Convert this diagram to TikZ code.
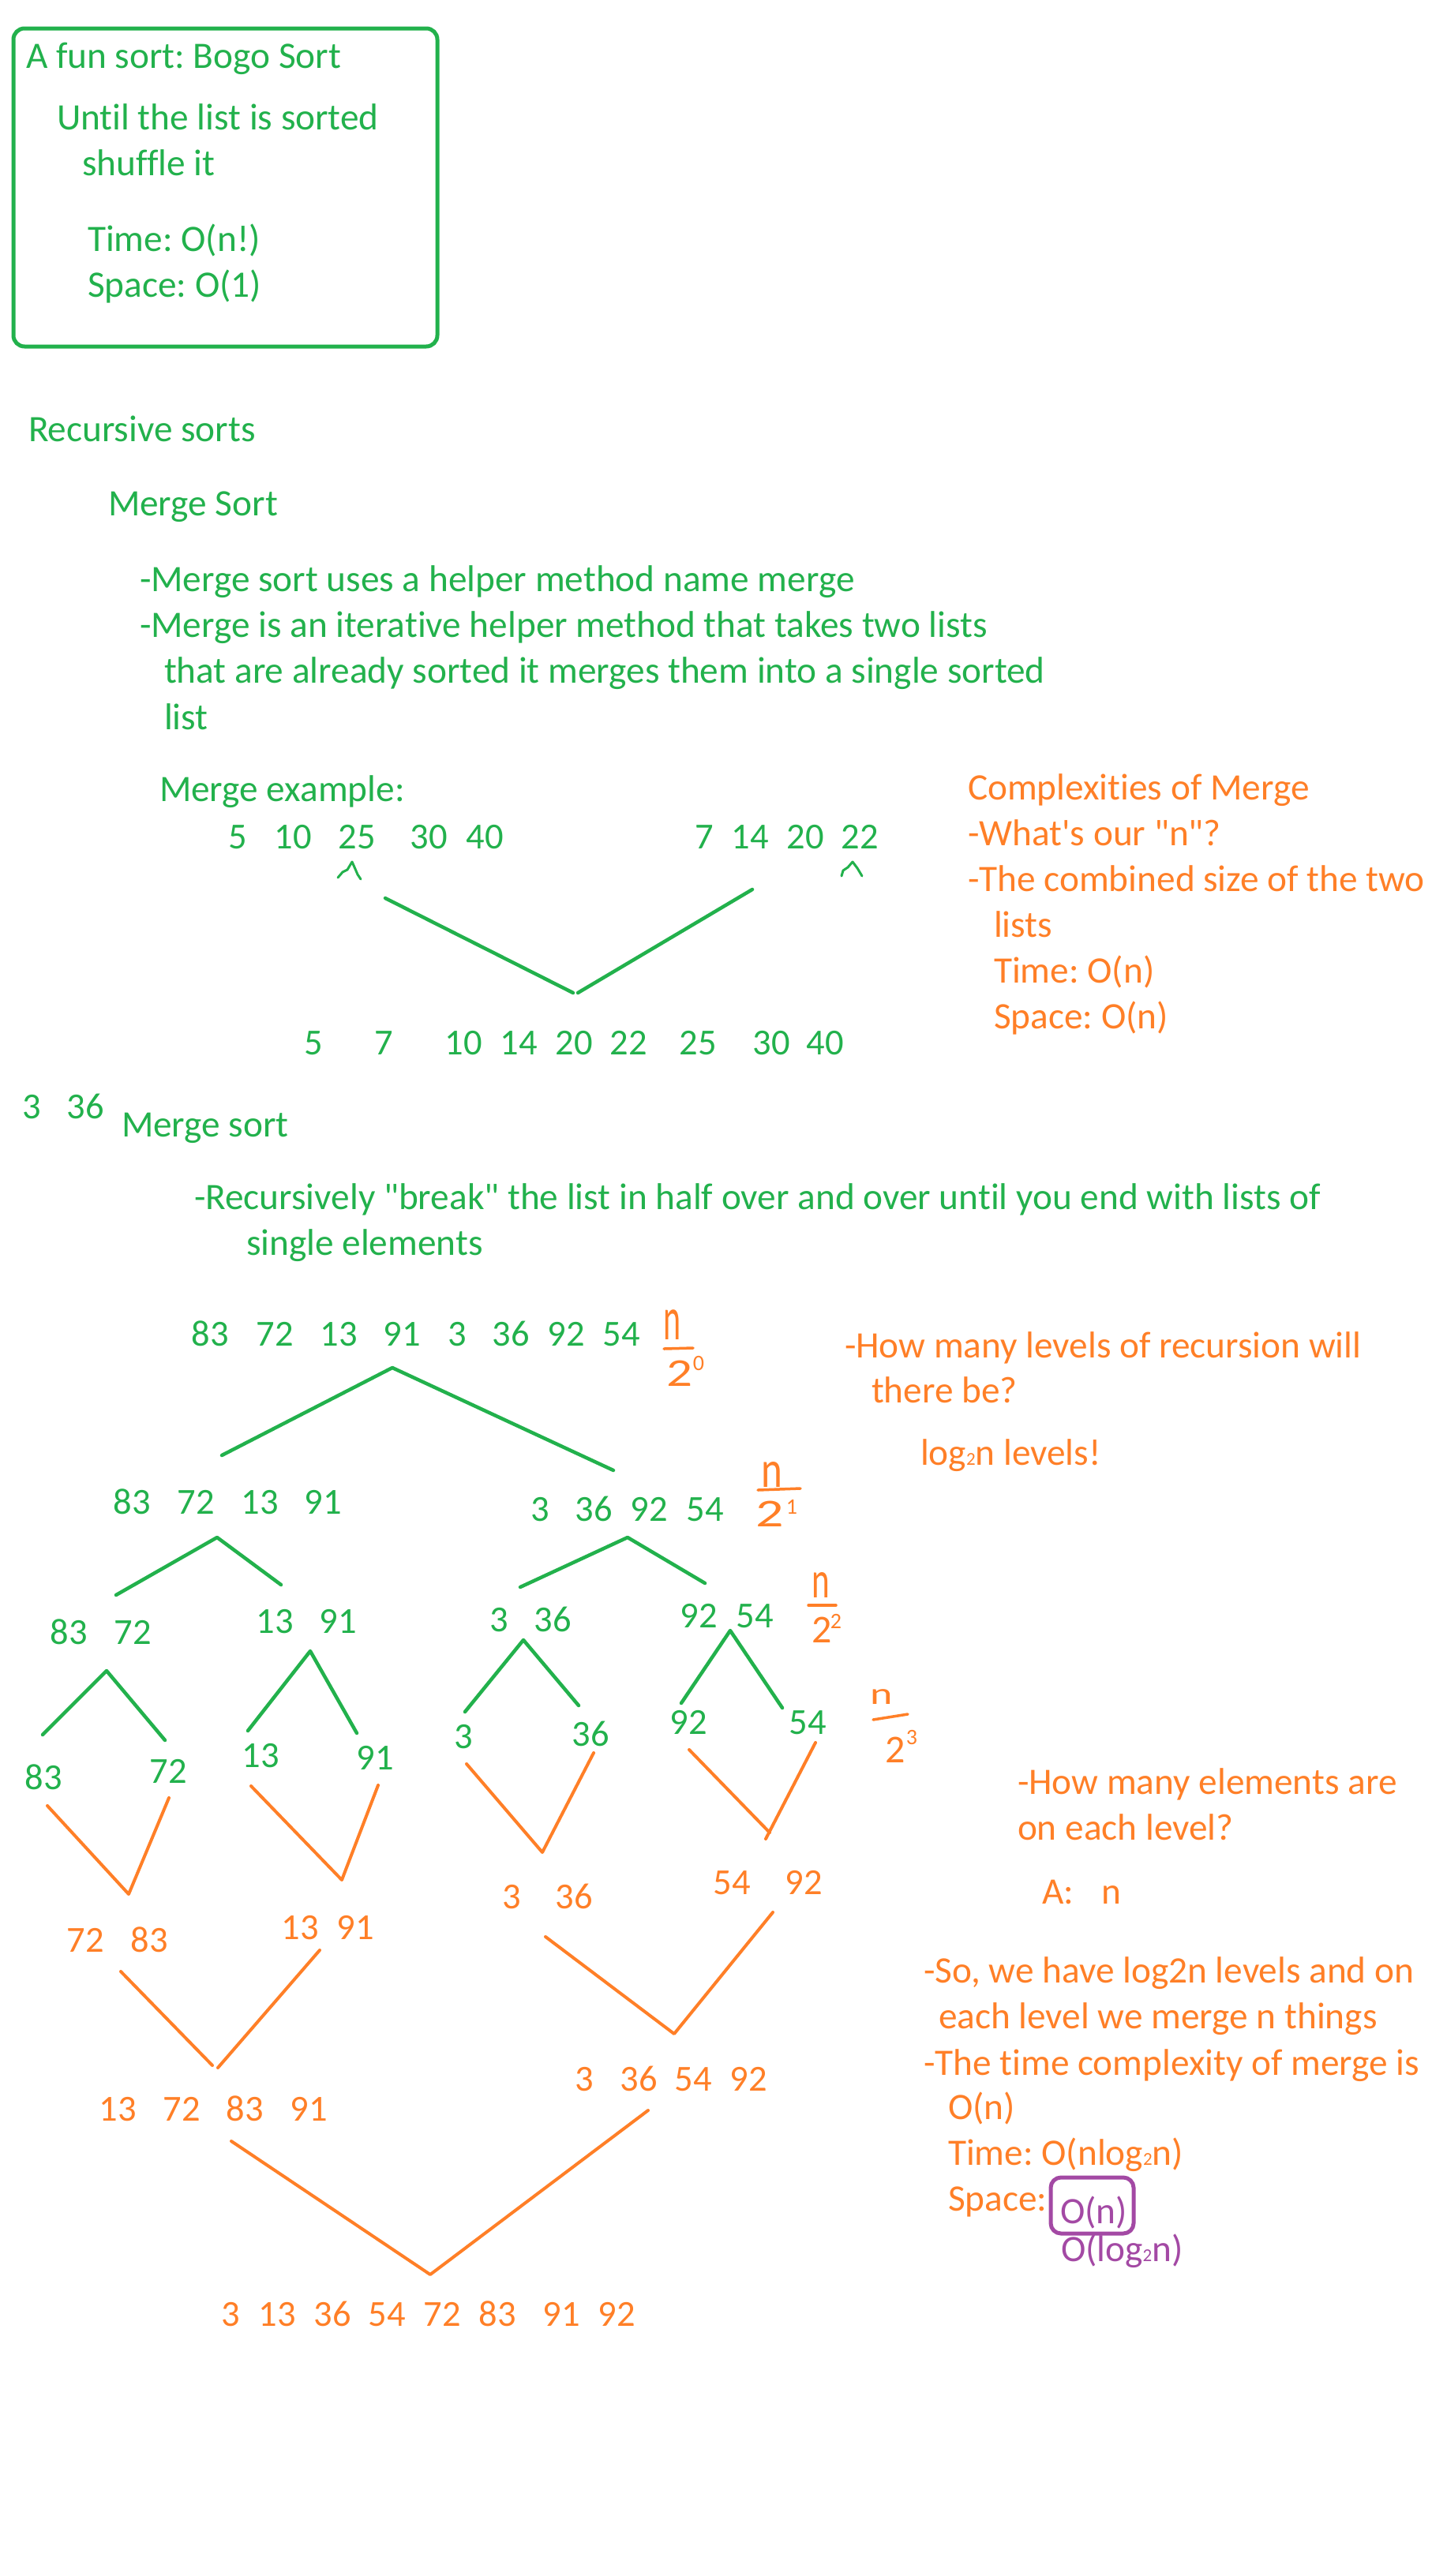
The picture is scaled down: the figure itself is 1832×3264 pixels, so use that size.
\documentclass[tikz,border=0pt]{standalone}
\usepackage{fontspec}
\setmainfont{Carlito}
\newfontfamily\cfont[Ligatures=NoCommon]{Carlito}
\definecolor{pgreen}{RGB}{34,177,76}
\definecolor{porange}{RGB}{255,127,39}
\definecolor{ppurple}{RGB}{163,73,164}
\newcommand\lowtwo{{\fontsize{23}{23}\selectfont 2}}
\tikzset{
  every node/.style={inner sep=0pt, outer sep=0pt},
  txt/.style={anchor=base west, font={\cfont\fontsize{47.3}{56}\selectfont\frenchspacing}},
  gtxt/.style={txt, text=pgreen},
  otxt/.style={txt, text=porange},
  ptxt/.style={txt, text=ppurple},
  num/.style={anchor=base, font={\cfont\fontsize{46.5}{56}\selectfont}},
  gnum/.style={num, text=pgreen},
  onum/.style={num, text=porange},
  gline/.style={draw=pgreen, line width=4.5pt, line cap=round, line join=round},
  oline/.style={draw=porange, line width=4pt, line cap=round, line join=round},
  hn/.style={anchor=center, text=porange, font={\cfont\fontsize{60}{60}\selectfont}},
  htwo/.style={anchor=center, text=porange, font={\cfont\fontsize{50}{50}\selectfont}},
  hsup/.style={anchor=center, text=porange, font={\cfont\fontsize{28}{28}\selectfont}},
  hbar/.style={draw=porange, line width=3.5pt, line cap=round},
  hat/.style={draw=pgreen, line width=3pt, line cap=round, line join=round},
}
\begin{document}
\begin{tikzpicture}[x=1pt,y=-1pt]
\useasboundingbox (0,0) rectangle (1832,3264);

% ---------- Bogo sort box ----------
\node[draw=pgreen, line width=5pt, rounded corners=14pt, minimum width=537pt, minimum height=403pt, anchor=north west] (bogobox) at (17,36) {};
\node[gtxt] (bogoT) at (33,86) {A fun sort: Bogo Sort};
\node[gtxt] (bogo1) at (72,164) {Until the list is sorted};
\node[gtxt] (bogo2) at (104,222) {shuffle it};
\node[gtxt] (bogo3) at (111,318) {Time: O(n!)};
\node[gtxt] (bogo4) at (111,376) {Space: O(1)};

% ---------- Recursive sorts ----------
\node[gtxt] (rec) at (36,559) {Recursive sorts};
\node[gtxt] (msort) at (137,653) {Merge Sort};
\node[gtxt] (ms1) at (177,749) {-Merge sort uses a helper method name merge};
\node[gtxt] (ms2) at (177,807) {-Merge is an iterative helper method that takes two lists};
\node[gtxt] (ms3) at (208,865) {that are already sorted it merges them into a single sorted};
\node[gtxt] (ms4) at (208,924) {list};
\node[gtxt] (mex) at (202,1015) {Merge example:};

% merge example numbers
\node[gnum] (a5) at (301,1075) {5};
\node[gnum] (a10) at (371,1075) {10};
\node[gnum] (a25) at (452,1075) {25};
\node[gnum] (a30) at (543,1075) {30};
\node[gnum] (a40) at (614,1075) {40};
\node[gnum] (b7) at (892,1075) {7};
\node[gnum] (b14) at (950,1075) {14};
\node[gnum] (b20) at (1020,1075) {20};
\node[gnum] (b22) at (1089,1075) {22};
\draw[hat] (428,1112) -- (434,1105) -- (440,1102) -- (446,1092) -- (450,1101) -- (453,1108) -- (457,1114);
\draw[hat] (1066,1110) -- (1068,1103) -- (1074,1099) -- (1080,1092) -- (1086,1100) -- (1092,1110);
\coordinate (meL) at (488,1138);
\coordinate (meA1) at (726,1258);
\coordinate (meA2) at (732,1258);
\coordinate (meR) at (953,1127);
\draw[gline] (meL) -- (meA1);
\draw[gline] (meR) -- (meA2);
\node[gnum] (c5) at (397,1336) {5};
\node[gnum] (c7) at (486,1336) {7};
\node[gnum] (c10) at (587,1336) {10};
\node[gnum] (c14) at (657,1336) {14};
\node[gnum] (c20) at (727,1336) {20};
\node[gnum] (c22) at (796,1336) {22};
\node[gnum] (c25) at (884,1336) {25};
\node[gnum] (c30) at (977,1336) {30};
\node[gnum] (c40) at (1045,1336) {40};

% complexities of merge
\node[otxt] (cm0) at (1226,1013) {Complexities of Merge};
\node[otxt] (cm1) at (1226,1071) {-What's our "n"?};
\node[otxt] (cm2) at (1226,1129) {-The combined size of the two};
\node[otxt] (cm3) at (1259,1187) {lists};
\node[otxt] (cm4) at (1259,1245) {Time: O(n)};
\node[otxt] (cm5) at (1259,1303) {Space: O(n)};

% ---------- Merge sort ----------
\node[gnum] (x3) at (40,1417) {3};
\node[gnum] (x36) at (108,1417) {36};
\node[gtxt] (ms) at (154,1440) {Merge sort};
\node[gtxt] (rb1) at (246,1532) {-Recursively "break" the list in half over and over until you end with lists of};
\node[gtxt] (rb2) at (312,1590) {single elements};

% level 0
\node[gnum] (l0a) at (266,1705) {83};
\node[gnum] (l0b) at (348,1705) {72};
\node[gnum] (l0c) at (429,1705) {13};
\node[gnum] (l0d) at (509,1705) {91};
\node[gnum] (l0e) at (579,1705) {3};
\node[gnum] (l0f) at (647,1705) {36};
\node[gnum] (l0g) at (717,1705) {92};
\node[gnum] (l0h) at (787,1705) {54};
\coordinate (t0A) at (497,1733);
\coordinate (t0L) at (281,1844);
\coordinate (t0R) at (777,1863);
\draw[gline] (t0L) -- (t0A) -- (t0R);

% level 1
\node[gnum] (l1a) at (167,1918) {83};
\node[gnum] (l1b) at (248,1918) {72};
\node[gnum] (l1c) at (329,1918) {13};
\node[gnum] (l1d) at (409,1918) {91};
\node[gnum] (l1e) at (684,1927) {3};
\node[gnum] (l1f) at (752,1927) {36};
\node[gnum] (l1g) at (822,1927) {92};
\node[gnum] (l1h) at (893,1927) {54};
\coordinate (t1aA) at (275,1948);
\coordinate (t1aL) at (147,2021);
\coordinate (t1aR) at (356,2008);
\draw[gline] (t1aL) -- (t1aA) -- (t1aR);
\coordinate (t1bA) at (795,1948);
\coordinate (t1bL) at (659,2011);
\coordinate (t1bR) at (893,2006);
\draw[gline] (t1bL) -- (t1bA) -- (t1bR);

% level 2
\node[gnum] (l2a) at (87,2083) {83};
\node[gnum] (l2b) at (168,2083) {72};
\node[gnum] (l2c) at (348,2069) {13};
\node[gnum] (l2d) at (428,2069) {91};
\node[gnum] (l2e) at (632,2067) {3};
\node[gnum] (l2f) at (700,2067) {36};
\node[gnum] (l2g) at (885,2062) {92};
\node[gnum] (l2h) at (956,2062) {54};
\coordinate (t2aA) at (135,2117);
\coordinate (t2aL) at (54,2198);
\coordinate (t2aR) at (209,2205);
\draw[gline] (t2aL) -- (t2aA) -- (t2aR);
\coordinate (t2bA) at (393,2092);
\coordinate (t2bL) at (314,2193);
\coordinate (t2bR) at (452,2196);
\draw[gline] (t2bL) -- (t2bA) -- (t2bR);
\coordinate (t2cA) at (663,2078);
\coordinate (t2cL) at (589,2169);
\coordinate (t2cR) at (733,2161);
\draw[gline] (t2cL) -- (t2cA) -- (t2cR);
\coordinate (t2dA) at (925,2066);
\coordinate (t2dL) at (863,2158);
\coordinate (t2dR) at (991,2164);
\draw[gline] (t2dL) -- (t2dA) -- (t2dR);

% level 3
\node[gnum] (l3a) at (55,2267) {83};
\node[gnum] (l3b) at (213,2259) {72};
\node[gnum] (l3c) at (330,2239) {13};
\node[gnum] (l3d) at (475,2242) {91};
\node[gnum] (l3e) at (587,2215) {3};
\node[gnum] (l3f) at (748,2212) {36};
\node[gnum] (l3g) at (872,2197) {92};
\node[gnum] (l3h) at (1023,2197) {54};

% merge V lines, level 3 -> 2
\coordinate (m3aL) at (60,2288);
\coordinate (m3aB) at (163,2400);
\coordinate (m3aR) at (214,2278);
\draw[oline] (m3aL) -- (m3aB) -- (m3aR);
\coordinate (m3bL) at (318,2263);
\coordinate (m3bB) at (433,2382);
\coordinate (m3bR) at (479,2262);
\draw[oline] (m3bL) -- (m3bB) -- (m3bR);
\coordinate (m3cL) at (591,2235);
\coordinate (m3cB) at (687,2347);
\coordinate (m3cR) at (752,2221);
\draw[oline] (m3cL) -- (m3cB) -- (m3cR);
\coordinate (m3dL) at (873,2217);
\coordinate (m3dB1) at (975,2322);
\coordinate (m3dB2) at (970,2330);
\coordinate (m3dR) at (1033,2208);
\draw[oline] (m3dL) -- (m3dB1);
\draw[oline] (m3dB2) -- (m3dR);

% merged pairs
\node[onum] (o2a) at (108,2473) {72};
\node[onum] (o2b) at (189,2473) {83};
\node[onum] (o2c) at (380,2457) {13};
\node[onum] (o2d) at (450,2457) {91};
\node[onum] (o2e) at (648,2418) {3};
\node[onum] (o2f) at (727,2418) {36};
\node[onum] (o2g) at (927,2400) {54};
\node[onum] (o2h) at (1018,2400) {92};

\coordinate (m2aL) at (153,2498);
\coordinate (m2aB1) at (269,2617);
\coordinate (m2aB2) at (276,2620);
\coordinate (m2aR) at (405,2471);
\draw[oline] (m2aL) -- (m2aB1);
\draw[oline] (m2aB2) -- (m2aR);
\coordinate (m2bL) at (691,2454);
\coordinate (m2bB) at (854,2577);
\coordinate (m2bR) at (979,2423);
\draw[oline] (m2bL) -- (m2bB) -- (m2bR);

% merged quads
\node[onum] (o1a) at (149,2687) {13};
\node[onum] (o1b) at (230,2687) {72};
\node[onum] (o1c) at (310,2687) {83};
\node[onum] (o1d) at (391,2687) {91};
\node[onum] (o1e) at (740,2649) {3};
\node[onum] (o1f) at (809,2649) {36};
\node[onum] (o1g) at (878,2649) {54};
\node[onum] (o1h) at (948,2649) {92};

\coordinate (m1L) at (293,2713);
\coordinate (m1B) at (545,2882);
\coordinate (m1R) at (821,2674);
\draw[oline] (m1L) -- (m1B) -- (m1R);

% final
\node[onum] (o0a) at (292,2947) {3};
\node[onum] (o0b) at (351,2947) {13};
\node[onum] (o0c) at (421,2947) {36};
\node[onum] (o0d) at (490,2947) {54};
\node[onum] (o0e) at (560,2947) {72};
\node[onum] (o0f) at (630,2947) {83};
\node[onum] (o0g) at (711,2947) {91};
\node[onum] (o0h) at (781,2947) {92};

% handwritten n/2^k
\node[hn] (f0n) at (852,1679) {\scalebox{0.7}[1.3]{n}};
\draw[hbar] (841,1709) -- (878,1708);
\node[htwo] (f0d) at (861,1740) {\scalebox{1.3}[1]{2}};
\node[hsup] (f0s) at (885,1727) {0};
\node[hn] (f1n) at (978,1868) {\scalebox{0.85}[1.1]{n}};
\draw[hbar] (960,1888) -- (1014,1886);
\node[htwo] (f1d) at (975,1918) {\scalebox{1.4}[1]{2}};
\node[hsup] (f1s) at (1003,1909) {1};
\node[hn] (f2n) at (1040,2008) {\scalebox{0.72}[1.1]{n}};
\draw[hbar] (1024,2034) -- (1059,2034);
\node[htwo] (f2d) at (1041,2065) {2};
\node[hsup] (f2s) at (1059,2054) {2};
\node[hn] (f3n) at (1117,2150) {\scalebox{0.9}[0.65]{n}};
\draw[hbar] (1106,2179) -- (1150,2172);
\node[htwo] (f3d) at (1134,2217) {2};
\node[hsup] (f3s) at (1155,2201) {3};

% right column questions
\node[otxt] (q1) at (1070,1720) {-How many levels of recursion will};
\node[otxt] (q2) at (1104,1777) {there be?};
\node[otxt] (q3) at (1166,1856) {log\lowtwo n levels!};
\node[otxt] (q4) at (1289,2273) {-How many elements are};
\node[otxt] (q5) at (1289,2331) {on each level?};
\node[otxt] (q6) at (1320,2412) {A:\hspace{0.75em}n};
\node[otxt] (s1) at (1170,2512) {-So, we have log2n levels and on};
\node[otxt] (s2) at (1189,2570) {each level we merge n things};
\node[otxt] (s3) at (1170,2629) {-The time complexity of merge is};
\node[otxt] (s4) at (1201,2685) {O(n)};
\node[otxt] (s5) at (1201,2743) {Time: O(nlog\lowtwo n)};
\node[otxt] (s6) at (1201,2801) {Space:};
\node[draw=ppurple, line width=5pt, rounded corners=13pt, minimum width=105pt, minimum height=71pt] (spbox) at (1383.5,2794.5) {};
\node[ptxt] (s7) at (1343,2817) {O(n)};
\node[ptxt] (s8) at (1344,2865) {O(log\lowtwo n)};
\end{tikzpicture}
\end{document}
